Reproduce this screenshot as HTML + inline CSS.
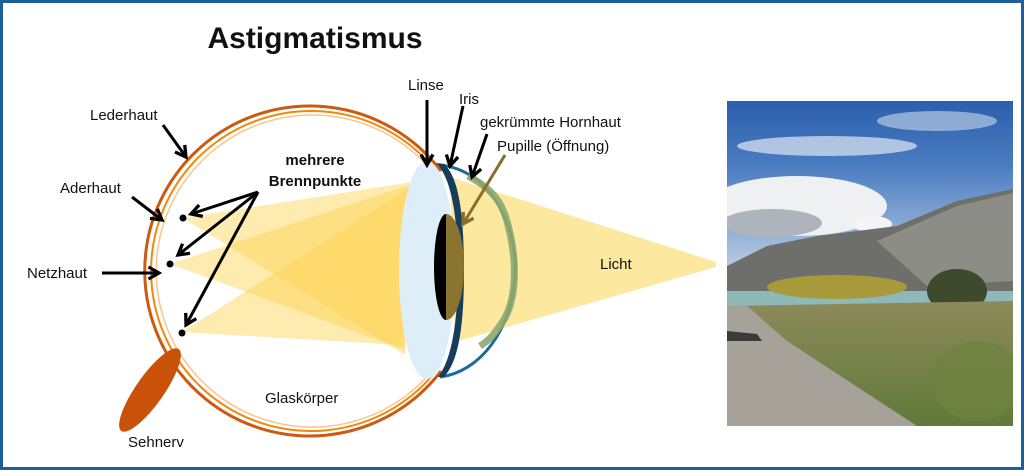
<!DOCTYPE html>
<html><head><meta charset="utf-8"><style>
html,body{margin:0;padding:0;background:#fff}
svg{display:block}
text{font-family:"Liberation Sans",sans-serif;fill:#111}
</style></head><body>
<svg width="1024" height="470" viewBox="0 0 1024 470" xmlns="http://www.w3.org/2000/svg">
<defs>
<marker id="ah" viewBox="0 0 10 10" refX="8" refY="5" markerWidth="5" markerHeight="5" orient="auto">
<path d="M1,1 L8,5 L1,9" fill="none" stroke="#000" stroke-width="2.2"/>
</marker>
<marker id="ahb" viewBox="0 0 10 10" refX="8" refY="5" markerWidth="5" markerHeight="5" orient="auto">
<path d="M1,1 L8,5 L1,9" fill="none" stroke="#8a6d2a" stroke-width="2.2"/>
</marker>
<linearGradient id="sky" x1="0" y1="0" x2="0" y2="1">
<stop offset="0" stop-color="#2b5fae"/><stop offset="0.2" stop-color="#4b7cc0"/>
<stop offset="0.4" stop-color="#8fb0d8"/><stop offset="0.55" stop-color="#c9d4de"/><stop offset="1" stop-color="#9fb4c8"/>
</linearGradient>
<linearGradient id="grass" x1="0" y1="0" x2="0" y2="1">
<stop offset="0" stop-color="#8d8a5a"/><stop offset="1" stop-color="#5f7a3a"/>
</linearGradient>
</defs>
<rect x="1.5" y="1.5" width="1021" height="467" fill="#fff" stroke="#1f5f99" stroke-width="3"/>
<text x="315" y="48" font-size="30" font-weight="bold" text-anchor="middle">Astigmatismus</text>

<!-- light outside -->
<polygon points="450,177 716,262 716,267 455,342" fill="#fde8a0"/>
<!-- beams inside -->
<polygon points="183,218 412,182 405,355" fill="#fcd34d" opacity="0.45"/>
<polygon points="170,264 412,184 405,350" fill="#fcd34d" opacity="0.45"/>
<polygon points="182,332 412,186 402,345" fill="#fcd34d" opacity="0.45"/>

<!-- eye rings (arcs, open at the front) -->
<path d="M441,171 A165,165 0 1 0 441,371" fill="none" stroke="#cc5a12" stroke-width="3"/>
<path d="M436,171 A160,160 0 1 0 436,371" fill="none" stroke="#f0890a" stroke-width="2"/>
<path d="M432,171 A156,156 0 1 0 432,371" fill="none" stroke="#fbc48e" stroke-width="1.5"/>
<!-- optic nerve -->
<ellipse cx="150" cy="390" rx="50" ry="14" transform="rotate(-55 150 390)" fill="#c95208"/>

<!-- cornea blue arc -->
<path d="M440,165 C490,170 518,225 515,275 C512,330 480,372 440,377" fill="none" stroke="#1f6a9a" stroke-width="3"/>
<!-- iris dark crescent -->
<path d="M436,163 C452,178 458,220 458,270 C458,320 452,360 438,377 L444,377 C460,360 464,320 464,270 C464,220 460,178 444,164 Z" fill="#173d5c"/>
<!-- lens -->
<ellipse cx="427" cy="270" rx="28" ry="109" fill="#deeef8"/>
<!-- pupil -->
<ellipse cx="446" cy="267" rx="12" ry="53" fill="#000"/>
<path d="M446,214 A18,53 0 0 1 446,320 Z" fill="#8a7430"/>
<!-- green curved cornea -->
<path d="M468,176 C495,190 503,205 508,225 C517,260 517,295 505,318 C496,332 490,340 480,346" fill="none" stroke="#8da86e" stroke-width="7" opacity="0.9"/>

<!-- dots -->
<circle cx="183" cy="218" r="3.5" fill="#000"/>
<circle cx="170" cy="264" r="3.5" fill="#000"/>
<circle cx="182" cy="333" r="3.5" fill="#000"/>

<!-- arrows -->
<g stroke="#000" stroke-width="3" fill="none">
<line x1="163" y1="125" x2="186" y2="157" marker-end="url(#ah)"/>
<line x1="132" y1="197" x2="162" y2="220" marker-end="url(#ah)"/>
<line x1="102" y1="273" x2="159" y2="273" marker-end="url(#ah)"/>
<line x1="258" y1="192" x2="191" y2="214" marker-end="url(#ah)"/>
<line x1="258" y1="192" x2="178" y2="255" marker-end="url(#ah)"/>
<line x1="258" y1="192" x2="186" y2="325" marker-end="url(#ah)"/>
<line x1="427" y1="100" x2="427" y2="165" marker-end="url(#ah)"/>
<line x1="463" y1="106" x2="450" y2="166" marker-end="url(#ah)"/>
<line x1="487" y1="134" x2="472" y2="177" marker-end="url(#ah)"/>
</g>
<line x1="505" y1="155" x2="463" y2="224" stroke="#8a6d2a" stroke-width="3" marker-end="url(#ahb)"/>

<!-- labels -->
<g font-size="15">
<text x="90" y="120">Lederhaut</text>
<text x="60" y="193">Aderhaut</text>
<text x="27" y="278">Netzhaut</text>
<text x="128" y="447">Sehnerv</text>
<text x="265" y="403">Glaskörper</text>
<text x="408" y="90">Linse</text>
<text x="459" y="104">Iris</text>
<text x="480" y="127">gekrümmte Hornhaut</text>
<text x="497" y="151">Pupille (Öffnung)</text>
<text x="600" y="269">Licht</text>
<text x="315" y="165" font-weight="bold" text-anchor="middle">mehrere</text>
<text x="315" y="186" font-weight="bold" text-anchor="middle">Brennpunkte</text>
</g>

<!-- photo -->
<svg x="727" y="101" width="286" height="325" viewBox="0 0 286 325">
<rect width="286" height="325" fill="url(#sky)"/>
<ellipse cx="100" cy="45" rx="90" ry="10" fill="#dfe8f3" opacity="0.7"/>
<ellipse cx="210" cy="20" rx="60" ry="10" fill="#c9d8ea" opacity="0.6"/>
<ellipse cx="70" cy="105" rx="90" ry="30" fill="#eef0f2"/>
<ellipse cx="45" cy="122" rx="50" ry="14" fill="#aeb4bc"/>
<ellipse cx="145" cy="123" rx="20" ry="8" fill="#f2f4f6"/>
<polygon points="0,165 40,145 90,135 170,125 230,100 286,88 286,195 0,195" fill="#6e6f6a"/>
<polygon points="150,140 230,105 286,92 286,180 200,185" fill="#9a9a94" opacity="0.7"/>
<rect x="0" y="190" width="286" height="16" fill="#8fb8b8"/>
<ellipse cx="110" cy="186" rx="70" ry="12" fill="#a89a3a"/>
<ellipse cx="230" cy="190" rx="30" ry="22" fill="#3e4a2c"/>
<polygon points="0,205 286,200 286,325 0,325" fill="url(#grass)"/>
<polygon points="0,205 20,205 60,240 190,325 0,325" fill="#a6a299"/>
<polygon points="0,230 30,233 35,240 0,240" fill="#3a3a36"/>
<ellipse cx="250" cy="280" rx="45" ry="40" fill="#6f8240" opacity="0.8"/>
</svg>
</svg>
</body></html>
